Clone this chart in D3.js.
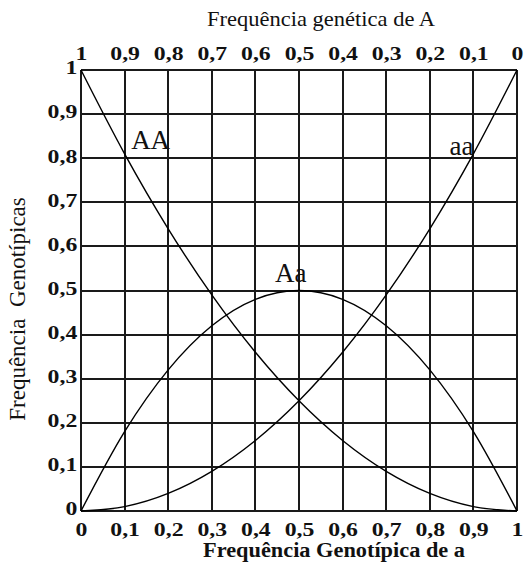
<!DOCTYPE html>
<html><head><meta charset="utf-8">
<script src="https://cdn.jsdelivr.net/npm/d3@7"></script>
<style>
html,body{margin:0;padding:0;background:#fff;}
svg{display:block;}
svg text{font-family:"Liberation Serif","Times New Roman",serif;}
</style></head>
<body><svg id="c" width="525" height="568"></svg>
<script>
// Data
const q = [0, 0.1, 0.2, 0.3, 0.4, 0.5, 0.6, 0.7, 0.8, 0.9, 1];          // frequency of a
const AA = [1, 0.81, 0.64, 0.49, 0.36, 0.25, 0.16, 0.09, 0.04, 0.01, 0];
const Aa = [0, 0.18, 0.32, 0.42, 0.48, 0.5, 0.48, 0.42, 0.32, 0.18, 0];
const aa = [0, 0.01, 0.04, 0.09, 0.16, 0.25, 0.36, 0.49, 0.64, 0.81, 1];
const xTickLabels = ["0","0,1","0,2","0,3","0,4","0,5","0,6","0,7","0,8","0,9","1"];
const topTickValues = [1, 0.9, 0.8, 0.7, 0.6, 0.5, 0.4, 0.3, 0.2, 0.1, 0];
const topTickLabels = ["1","0,9","0,8","0,7","0,6","0,5","0,4","0,3","0,2","0,1","0"];
const yTickValues = [0, 0.1, 0.2, 0.3, 0.4, 0.5, 0.6, 0.7, 0.8, 0.9, 1];
const yTickLabels = ["0","0,1","0,2","0,3","0,4","0,5","0,6","0,7","0,8","0,9","1"];
const curveLabels = [
  {name:"AA", q:0.115, v:0.82},
  {name:"Aa", q:0.445, v:0.52},
  {name:"aa", q:0.845, v:0.807}
];

const svg = d3.select("#c");
const L = 81, R = 517, T = 70, B = 511;
const x = d3.scaleLinear().domain([0,1]).range([L,R]);
const xTop = d3.scaleLinear().domain([1,0]).range([L,R]);
const y = d3.scaleLinear().domain([0,1]).range([B,T]);

// Grid
const grid = svg.append("g").attr("stroke","#1a1a1a").attr("stroke-width",2).attr("shape-rendering","crispEdges");
grid.selectAll("line.v").data(q).join("line")
  .attr("x1",d=>x(d)).attr("x2",d=>x(d)).attr("y1",y(0)).attr("y2",y(1));
grid.selectAll("line.h").data(yTickValues).join("line")
  .attr("y1",d=>y(d)).attr("y2",d=>y(d)).attr("x1",x(0)).attr("x2",x(1));

// Curves
const line = d3.line().x((d,i)=>x(q[i])).y(d=>y(d)).curve(d3.curveMonotoneX);
[AA, Aa, aa].forEach(s=>{
  svg.append("path").datum(s).attr("d",line).attr("fill","none")
    .attr("stroke","#000").attr("stroke-width",1.4);
});

// Curve labels
svg.selectAll("text.cl").data(curveLabels).join("text")
  .attr("class","cl")
  .attr("x",d=>x(d.q)).attr("y",d=>y(d.v))
  .attr("font-size",27).attr("fill","#111").text(d=>d.name);

const SX = 1.25;
function styleAxis(g){
  g.attr("font-family",null).attr("font-size",null);
  g.select(".domain").remove();
  g.selectAll(".tick line").remove();
  g.selectAll("text").attr("font-size",19).attr("font-weight","bold")
    .style("font-family",'"Liberation Serif","Times New Roman",serif').attr("fill","#111");
}

// Bottom axis
const gb = svg.append("g").attr("transform",`translate(0,${B})`)
  .call(d3.axisBottom(x).tickValues(q).tickFormat((d,i)=>xTickLabels[i]).tickSize(0));
styleAxis(gb);
gb.selectAll("text").attr("y",25).attr("dy",0).attr("transform",`scale(${SX},1)`);

// Top axis
const gt = svg.append("g").attr("transform",`translate(0,${T})`)
  .call(d3.axisTop(xTop).tickValues(topTickValues).tickFormat((d,i)=>topTickLabels[i]).tickSize(0));
styleAxis(gt);
gt.selectAll("text").attr("y",-10).attr("dy",0).attr("transform",`scale(${SX},1)`);

// Left axis
const gl = svg.append("g").attr("transform",`translate(${L},0)`)
  .call(d3.axisLeft(y).tickValues(yTickValues).tickFormat((d,i)=>yTickLabels[i]).tickSize(0));
styleAxis(gl);
gl.selectAll("text").attr("x",-3).attr("dy","0.2em").attr("transform",`scale(${SX},1)`);

// Titles
svg.append("text").attr("x",321).attr("y",26).attr("text-anchor","middle")
  .attr("font-size",21).attr("fill","#111")
  .attr("textLength",228).attr("lengthAdjust","spacingAndGlyphs")
  .text("Frequência genética de A");

svg.append("text").attr("x",334).attr("y",557).attr("text-anchor","middle")
  .attr("font-size",20).attr("font-weight","bold").attr("fill","#111")
  .attr("textLength",262).attr("lengthAdjust","spacingAndGlyphs")
  .text("Frequência Genotípica de a");

svg.append("text").attr("transform","translate(25,309) rotate(-90)")
  .attr("text-anchor","middle").attr("font-size",23).attr("fill","#111")
  .style("white-space","pre")
  .text("Frequência  Genotípicas");
</script></body></html>
